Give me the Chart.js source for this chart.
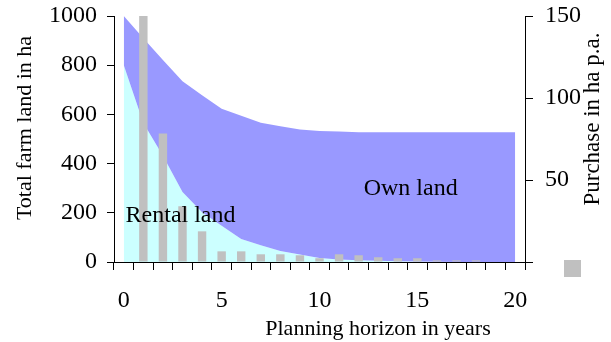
<!DOCTYPE html>
<html>
<head>
<meta charset="utf-8">
<script src="https://cdn.jsdelivr.net/npm/chart.js@4"></script>
<style>
  html, body { margin: 0; padding: 0; background: #ffffff; }
  #wrap { width: 611px; height: 342px; }
</style>
</head>
<body>
<div id="wrap"><canvas id="chart" width="611" height="342"></canvas></div>
<script>
// Planning horizon (years)
const years = [0, 1, 2, 3, 4, 5, 6, 7, 8, 9, 10, 11, 12, 13, 14, 15, 16, 17, 18, 19, 20];

// Total farm land in ha (upper edge of the own-land area)
const totalLand = [1000, 910, 821, 735, 678, 623, 595, 566, 552, 539, 533, 530, 527, 527, 527, 527, 527, 527, 527, 527, 527];

// Rental land in ha
const rentalLand = [800, 565, 432, 285, 202, 147, 93, 68, 45, 30, 16, 10, 7, 5, 3, 2, 1, 0, 0, 0, 0];

// Land purchase in ha per year (right axis)
const purchase = [null, 150, 78.4, 34, 18.7, 6.5, 6.5, 4.7, 4.7, 4.1, 2.3, 4.7, 4.1, 2.9, 2.3, 2.3, 1, 1, 1, 0, 0];

// Axis tick labels
const leftTicks = [0, 200, 400, 600, 800, 1000];
const rightTicks = [50, 100, 150];
const xTickLabels = [0, 5, 10, 15, 20];

const SERIF = "'Liberation Serif', 'Times New Roman', serif";

const labelsPlugin = {
  id: 'labels',
  afterDraw(chart) {
    const ctx = chart.ctx;
    const x = chart.scales.x, y = chart.scales.y, y2 = chart.scales.y2;
    ctx.save();
    ctx.fillStyle = '#000';
    ctx.textAlign = 'center';
    ctx.textBaseline = 'middle';

    // area labels
    ctx.font = '24px ' + SERIF;
    ctx.fillText('Rental land', x.getPixelForValue(2.9), y.getPixelForValue(190));
    ctx.fillText('Own land', x.getPixelForValue(14.66), y.getPixelForValue(296));

    // x axis title
    ctx.font = '22px ' + SERIF;
    ctx.fillText('Planning horizon in years', 378, 329);

    // left axis title
    ctx.save();
    ctx.translate(25, 128);
    ctx.rotate(-Math.PI / 2);
    ctx.fillText('Total farm land in ha', 0, 0);
    ctx.restore();

    // right axis title
    ctx.save();
    ctx.font = '23px ' + SERIF;
    ctx.translate(593, 119);
    ctx.rotate(-Math.PI / 2);
    ctx.fillText('Purchase in ha p.a.', 0, 0);
    ctx.restore();

    // legend swatch for the purchase bars
    ctx.fillStyle = '#C0C0C0';
    ctx.fillRect(y2.left + 39, y2.bottom - 2, 17, 17);
    ctx.restore();
  }
};

// fixed axis boxes so the plot area sits at the same place every time
const fixY = (w) => (s) => { s.width = w; s.paddingTop = 0; s.paddingBottom = 0; };

new Chart(document.getElementById('chart'), {
  type: 'bar',
  data: {
    labels: years,
    datasets: [
      {
        type: 'line',
        label: 'Rental land',
        data: rentalLand,
        yAxisID: 'y',
        backgroundColor: '#CCFFFF',
        borderColor: 'rgba(0,0,0,0)',
        borderWidth: 0,
        pointRadius: 0,
        tension: 0,
        fill: 'origin',
        order: 2
      },
      {
        type: 'line',
        label: 'Own land',
        data: totalLand,
        yAxisID: 'y',
        backgroundColor: '#9999FF',
        borderColor: 'rgba(0,0,0,0)',
        borderWidth: 0,
        pointRadius: 0,
        tension: 0,
        fill: '-1',
        order: 1
      },
      {
        type: 'bar',
        label: 'Purchase',
        data: purchase,
        yAxisID: 'y2',
        backgroundColor: '#C0C0C0',
        borderWidth: 0,
        categoryPercentage: 1,
        barPercentage: 0.43,
        order: 0
      }
    ]
  },
  options: {
    responsive: false,
    animation: false,
    events: [],
    layout: { padding: { top: 16, left: 0, right: 0, bottom: 0 } },
    plugins: {
      legend: { display: false },
      tooltip: { enabled: false }
    },
    scales: {
      x: {
        type: 'category',
        offset: true,
        grid: {
          offset: true,
          drawOnChartArea: false,
          drawTicks: true,
          tickLength: 8,
          color: '#000',
          lineWidth: 1
        },
        border: { display: true, color: '#000', width: 1 },
        ticks: {
          autoSkip: false,
          maxRotation: 0,
          padding: 16,
          color: '#000',
          font: { family: SERIF, size: 24 },
          callback: (v, i) => (xTickLabels.includes(years[i]) ? String(years[i]) : '')
        },
        afterFit: (s) => { s.height = 80; s.paddingLeft = 0; s.paddingRight = 0; }
      },
      y: {
        position: 'left',
        min: 0,
        max: 1000,
        afterBuildTicks: (s) => { s.ticks = leftTicks.map(v => ({ value: v })); },
        grid: {
          drawOnChartArea: false,
          tickLength: 7,
          color: '#000',
          lineWidth: 1
        },
        border: { display: true, color: '#000', width: 1 },
        ticks: {
          padding: 10,
          color: '#000',
          font: { family: SERIF, size: 24 },
          callback: (v) => String(v)
        },
        afterFit: fixY(114)
      },
      y2: {
        position: 'right',
        min: 0,
        max: 150,
        afterBuildTicks: (s) => { s.ticks = [0].concat(rightTicks).map(v => ({ value: v })); },
        grid: {
          drawOnChartArea: false,
          tickLength: 8,
          color: '#000',
          lineWidth: 1
        },
        border: { display: true, color: '#000', width: 1 },
        ticks: {
          padding: 12,
          color: '#000',
          font: { family: SERIF, size: 24 },
          callback: (v) => (rightTicks.includes(v) ? String(v) : '')
        },
        afterFit: fixY(86)
      }
    }
  },
  plugins: [labelsPlugin]
});
</script>
</body>
</html>
